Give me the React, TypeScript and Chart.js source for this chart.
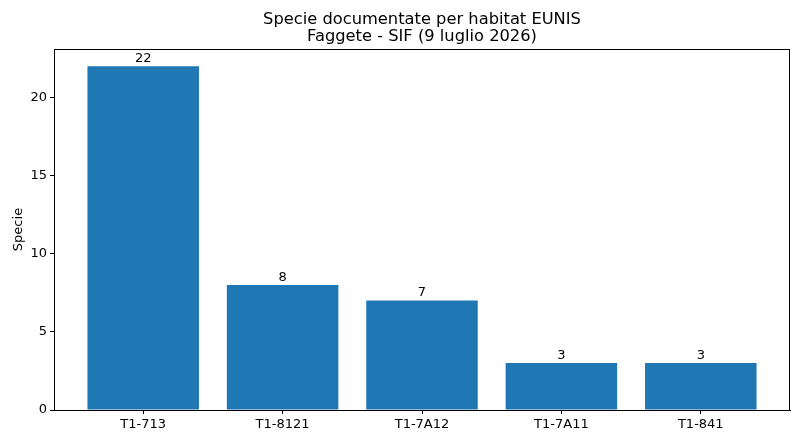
import React, { useEffect, useRef } from "react";
import { Chart, registerables } from "chart.js";

Chart.register(...registerables);

const categories = ["T1-713", "T1-8121", "T1-7A12", "T1-7A11", "T1-841"];
const values = [22, 8, 7, 3, 3];
const yTicks = [0, 5, 10, 15, 20];
const titleLines = ["Specie documentate per habitat EUNIS", "Faggete - SIF (9 luglio 2026)"];
const yLabel = "Specie";

const FONT = "'DejaVu Sans', sans-serif";

export default function App() {
  const ref = useRef<HTMLCanvasElement>(null);
  useEffect(() => {
    if (!ref.current) return;
    const overlay = {
      id: "overlay",
      afterDraw(chart: any) {
        const ctx = chart.ctx;
        const area = chart.chartArea;
        ctx.save();
        ctx.strokeStyle = "#000";
        ctx.lineWidth = 1;
        ctx.strokeRect(Math.round(area.left) + 0.5, Math.round(area.top) + 0.5, Math.round(area.right - area.left) - 1, Math.round(area.bottom - area.top));
        ctx.fillStyle = "#000";
        ctx.font = `16.3px ${FONT}`;
        ctx.textAlign = "center";
        ctx.textBaseline = "middle";
        const cx = (area.left + area.right) / 2;
        ctx.fillText(titleLines[0], cx, 20);
        ctx.fillText(titleLines[1], cx, 37);
        ctx.font = `13px ${FONT}`;
        ctx.textBaseline = "bottom";
        const meta = chart.getDatasetMeta(0);
        meta.data.forEach((bar: any, i: number) => {
          ctx.fillText(String(values[i]), bar.x, bar.y - 1);
        });
        ctx.restore();
      },
    };
    const chart = new Chart(ref.current, {
      type: "bar",
      data: {
        datasets: [
          {
            data: values.map((v, i) => ({ x: i, y: v })),
            backgroundColor: "#1f77b4",
            borderWidth: 0,
            barPercentage: 0.8,
            categoryPercentage: 1,
          },
        ],
      },
      options: {
        animation: false,
        responsive: false,
        maintainAspectRatio: false,
        layout: { padding: { top: 49, right: 13, left: 0, bottom: 0 } },
        plugins: { legend: { display: false }, title: { display: false }, tooltip: { enabled: false } },
        scales: {
          x: {
            type: "linear",
            min: -0.64,
            max: 4.64,
            offset: false,
            afterBuildTicks: (scale: any) => {
              scale.ticks = categories.map((_, i) => ({ value: i }));
            },
            afterFit: (scale: any) => {
              scale.height = 29;
            },
            ticks: {
              callback: (v: any) => categories[v as number] ?? "",
              color: "#000",
              font: { family: FONT, size: 13 },
              padding: 3,
              maxRotation: 0,
              autoSkip: false,
            },
            grid: { display: true, offset: false, drawOnChartArea: false, drawTicks: true, tickLength: 4, color: "#000" },
            border: { display: true, color: "#000", width: 1 },
          },
          y: {
            type: "linear",
            min: 0,
            max: 23.1,
            afterBuildTicks: (scale: any) => {
              scale.ticks = yTicks.map((v) => ({ value: v }));
            },
            afterFit: (scale: any) => {
              scale.width = 54;
            },
            ticks: {
              color: "#000",
              font: { family: FONT, size: 13 },
              padding: 3,
            },
            title: {
              display: true,
              text: yLabel,
              color: "#000",
              font: { family: FONT, size: 13 },
              padding: { top: 11, bottom: 0 },
            },
            grid: { display: true, drawOnChartArea: false, drawTicks: true, tickLength: 4, color: "#000" },
            border: { display: true, color: "#000", width: 1 },
          },
        },
      },
      plugins: [overlay],
    } as any);
    return () => chart.destroy();
  }, []);
  return (
    <div style={{ position: "fixed", left: 0, top: 0, width: 803, height: 439, background: "#fff" }}>
      <canvas ref={ref} width={803} height={439} style={{ width: 803, height: 439 }} />
    </div>
  );
}
